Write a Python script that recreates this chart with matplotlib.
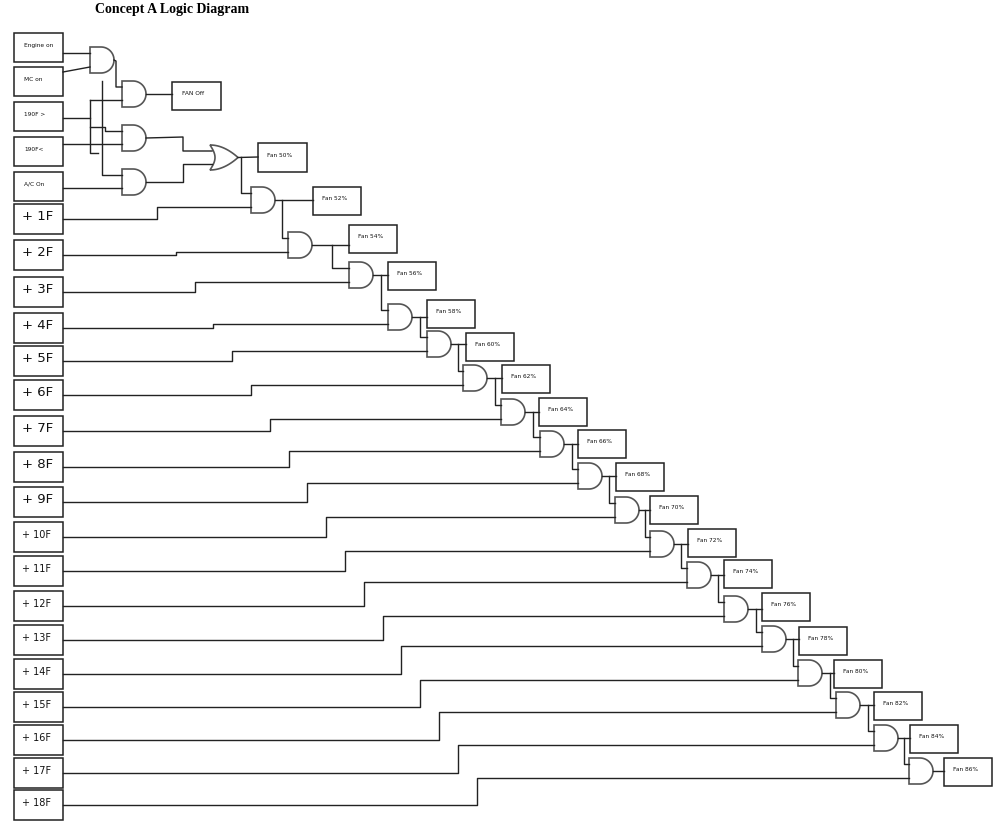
import matplotlib.pyplot as plt
import numpy as np

# labels
top_inputs = ["Engine on", "MC on", "190F >", "190F<", "A/C On"]
step_inputs = ["+ 1F", "+ 2F", "+ 3F", "+ 4F", "+ 5F", "+ 6F", "+ 7F", "+ 8F", "+ 9F",
               "+ 10F", "+ 11F", "+ 12F", "+ 13F", "+ 14F", "+ 15F", "+ 16F", "+ 17F", "+ 18F"]
fan_levels = [52, 54, 56, 58, 60, 62, 64, 66, 68, 70, 72, 74, 76, 78, 80, 82, 84, 86]

# layout (pixels)
top_box_y = [33, 67, 102, 137, 172]
step_box_y = [204, 240, 277, 313, 346, 380, 416, 452, 487, 522, 556, 591, 625, 659, 692, 725, 758, 790]
gate_xy = [(251, 187), (288, 232), (349, 262), (388, 304), (427, 331), (463, 365), (501, 399),
           (540, 431), (578, 463), (615, 497), (650, 531), (687, 562), (724, 596), (762, 626),
           (798, 660), (836, 692), (874, 725), (909, 758)]
fan_box_xy = [(313, 187), (349, 225), (388, 262), (427, 300), (466, 333), (502, 365), (539, 398),
              (578, 430), (616, 463), (650, 496), (688, 529), (724, 560), (762, 593), (799, 627),
              (834, 660), (874, 692), (910, 725), (944, 758)]

fig = plt.figure(figsize=(10.04, 8.32), dpi=100)
ax = fig.add_axes([0, 0, 1, 1])
ax.set_xlim(0, 1004)
ax.set_ylim(832, 0)
ax.axis("off")

LC = "#222222"
GC = "#555555"


def box(x, y, w, h, text, size, dx=10, lw=1.1):
    ax.add_patch(plt.Rectangle((x, y), w, h, fill=False, ec=LC, lw=lw))
    ax.text(x + dx, y + h * 0.42, text, fontsize=size, va="center", ha="left", color="#111111")


def wire(pts):
    p = np.array(pts)
    ax.plot(p[:, 0], p[:, 1], color=LC, lw=1.0)


def and_gate(x, y, w=24, h=26):
    r = h / 2
    t = np.linspace(-np.pi / 2, np.pi / 2, 40)
    xs = np.concatenate([[x, x + w - r], x + w - r + r * np.cos(t), [x]])
    ys = np.concatenate([[y, y], y + r + r * np.sin(t), [y + h]])
    ax.add_patch(plt.Polygon(np.column_stack([xs, ys]), closed=True, fill=False, ec=GC, lw=1.2))
    return x + w, y + r


def or_gate(x, y, w=28, h=25):
    t = np.linspace(0, 1, 30)
    back_x = x + 5 * np.sin(np.pi * t)
    back_y = y + h * t
    top_x = x + w * t
    top_y = y + (h / 2) * t ** 2
    bot_x = x + w * (1 - t)
    bot_y = y + h - (h / 2) * (1 - t) ** 2
    xs = np.concatenate([top_x, bot_x, back_x[::-1]])
    ys = np.concatenate([top_y, bot_y, back_y[::-1]])
    ax.add_patch(plt.Polygon(np.column_stack([xs, ys]), closed=True, fill=False, ec=GC, lw=1.2))
    return x + w, y + h / 2


ax.text(95, 9, "Concept A Logic Diagram", fontsize=10, fontweight="bold",
        family="Liberation Serif", va="center", ha="left")

# left input boxes
for lab, y in zip(top_inputs, top_box_y):
    box(14, y, 49, 29, lab, 4.2, dx=10)
for i, (lab, y) in enumerate(zip(step_inputs, step_box_y)):
    box(14, y, 49, 30, lab, 9.5 if i < 9 else 7, dx=8)

# front section
g1 = and_gate(90, 47)
wire([(63, 53), (90, 53)])
wire([(63, 72), (90, 67)])
goff = and_gate(122, 81)
wire([g1, (116, 61), (116, 87), (122, 87)])
wire([goff, (172, 94)])
box(172, 82, 49, 28, "FAN Off", 4.2, dx=10)
g2 = and_gate(122, 125)
g3 = and_gate(122, 169)
wire([(63, 118), (90, 118)])
wire([(90, 100), (90, 153), (98, 153)])
wire([(90, 100), (122, 100)])
wire([(102, 81), (102, 175), (122, 175)])
wire([(90, 127), (105, 127), (105, 131), (122, 131)])
wire([(63, 144), (122, 144)])
wire([(63, 188), (122, 188)])
gor = or_gate(210, 145)
wire([g2, (183, 137), (183, 151), (212, 151)])
wire([g3, (183, 182), (183, 164), (212, 164)])
wire([gor, (258, 157)])
box(258, 143, 49, 29, "Fan 50%", 4.2, dx=9)

# chain of AND gates
prev_out = (241, 157)
prev_bend = 241
for i, ((gx, gy), (bx, by), lvl) in enumerate(zip(gate_xy, fan_box_xy, fan_levels)):
    out = and_gate(gx, gy)
    if i == 0:
        bend = prev_bend
    else:
        bend = prev_out[0] + 0.55 * (gx - prev_out[0])
    wire([(bend, prev_out[1]), (bend, gy + 6), (gx, gy + 6)])
    in_y = step_box_y[i] + 15
    xb = 157 + 18.8 * i
    wire([(63, in_y), (xb, in_y), (xb, gy + 20), (gx, gy + 20)])
    wire([out, (bx, out[1])])
    box(bx, by, 48, 28, "Fan %d%%" % lvl, 4.2, dx=9)
    prev_out = out

fig.savefig("out.png", dpi=100)
